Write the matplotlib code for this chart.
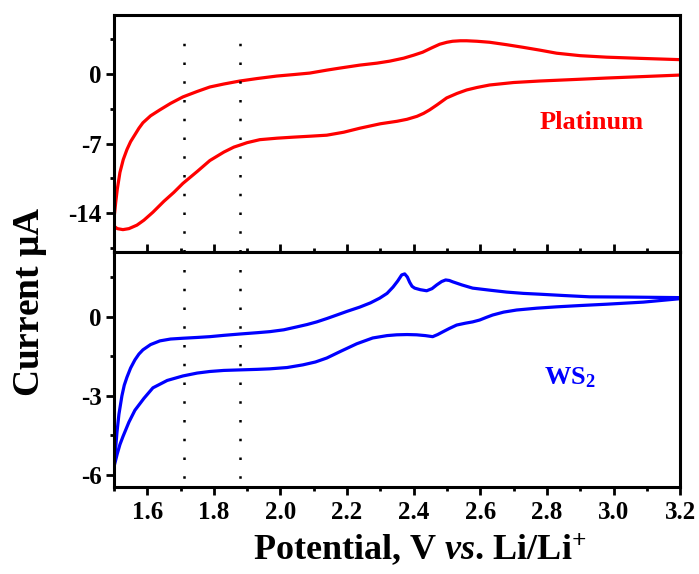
import matplotlib
matplotlib.use("Agg")
import matplotlib.pyplot as plt
from matplotlib.ticker import MultipleLocator, FormatStrFormatter

plt.rcParams['font.family'] = ['Liberation Serif', 'DejaVu Serif']
plt.rcParams['font.weight'] = 'bold'
plt.rcParams['mathtext.fontset'] = 'custom'
plt.rcParams['mathtext.rm'] = 'Liberation Serif:bold'
plt.rcParams['mathtext.bf'] = 'Liberation Serif:bold'
plt.rcParams['mathtext.it'] = 'Liberation Serif:bold:italic'

# ---- Platinum (upper panel) ----
pt_up_v = [1.500, 1.505, 1.510, 1.518, 1.528, 1.539, 1.550, 1.563, 1.575, 1.587,
           1.610, 1.638, 1.670, 1.707, 1.750, 1.788, 1.830, 1.878, 1.930, 1.989,
           2.040, 2.088, 2.140, 2.178, 2.238, 2.290, 2.328, 2.370, 2.400, 2.427,
           2.455, 2.478, 2.500, 2.517, 2.540, 2.559, 2.590, 2.628, 2.680, 2.727,
           2.780, 2.829, 2.900, 2.979, 3.080, 3.200]
pt_up_i = [-14.6, -13.0, -11.6, -9.9, -8.6, -7.6, -6.8, -6.1, -5.45, -4.9,
           -4.2, -3.6, -2.95, -2.3, -1.75, -1.3, -1.0, -0.7, -0.45, -0.2,
           -0.05, 0.1, 0.4, 0.6, 0.9, 1.1, 1.3, 1.6, 1.9, 2.2,
           2.65, 3.0, 3.2, 3.3, 3.35, 3.35, 3.3, 3.2, 2.95, 2.7,
           2.4, 2.1, 1.85, 1.7, 1.58, 1.45]
pt_dn_v = [1.500, 1.510, 1.527, 1.545, 1.569, 1.590, 1.617, 1.650, 1.680, 1.707,
           1.750, 1.788, 1.830, 1.860, 1.878, 1.900, 1.938, 1.990, 2.037, 2.090,
           2.139, 2.190, 2.238, 2.300, 2.350, 2.380, 2.410, 2.430, 2.448, 2.470,
           2.499, 2.530, 2.559, 2.590, 2.628, 2.700, 2.778, 2.880, 2.979, 3.090,
           3.200]
pt_dn_i = [-15.3, -15.55, -15.65, -15.55, -15.2, -14.7, -13.9, -12.8, -11.9, -11.0,
           -9.8, -8.7, -7.85, -7.35, -7.15, -6.9, -6.6, -6.45, -6.35, -6.25,
           -6.15, -5.85, -5.45, -5.0, -4.75, -4.55, -4.25, -3.95, -3.6, -3.1,
           -2.4, -1.95, -1.6, -1.35, -1.1, -0.85, -0.7, -0.55, -0.4, -0.25,
           -0.1]

# ---- WS2 (lower panel) ----
ws_up_v = [1.500, 1.503, 1.506, 1.509, 1.515, 1.524, 1.531, 1.539, 1.550, 1.563,
           1.575, 1.587, 1.610, 1.638, 1.670, 1.707, 1.750, 1.788, 1.830, 1.878,
           1.930, 1.968, 2.010, 2.049, 2.080, 2.109, 2.140, 2.169, 2.200, 2.238,
           2.270, 2.298, 2.320, 2.338, 2.352, 2.364, 2.373, 2.381, 2.388, 2.395,
           2.403, 2.420, 2.439, 2.455, 2.469, 2.484, 2.496, 2.507, 2.517, 2.545,
           2.577, 2.630, 2.679, 2.730, 2.778, 2.850, 2.928, 3.050, 3.200]
ws_up_i = [-5.7, -5.3, -4.85, -4.4, -3.7, -3.0, -2.6, -2.3, -1.95, -1.64,
           -1.42, -1.26, -1.06, -0.92, -0.85, -0.82, -0.79, -0.76, -0.71, -0.66,
           -0.61, -0.57, -0.5, -0.39, -0.3, -0.2, -0.07, 0.06, 0.2, 0.36,
           0.52, 0.7, 0.88, 1.12, 1.35, 1.58, 1.62, 1.5, 1.3, 1.15,
           1.08, 1.02, 0.98, 1.06, 1.2, 1.33, 1.39, 1.37, 1.32, 1.2,
           1.08, 1.0, 0.93, 0.88, 0.85, 0.8, 0.75, 0.74, 0.72]
ws_dn_v = [1.500, 1.510, 1.518, 1.527, 1.545, 1.563, 1.590, 1.617, 1.660, 1.707,
           1.750, 1.788, 1.830, 1.878, 1.930, 1.968, 2.020, 2.067, 2.105, 2.139,
           2.180, 2.229, 2.277, 2.320, 2.349, 2.380, 2.409, 2.435, 2.457, 2.472,
           2.487, 2.507, 2.529, 2.555, 2.577, 2.598, 2.618, 2.637, 2.670, 2.709,
           2.770, 2.829, 2.900, 2.979, 3.090, 3.200]
ws_dn_i = [-5.7, -5.2, -4.85, -4.55, -4.0, -3.55, -3.1, -2.7, -2.42, -2.25,
           -2.14, -2.08, -2.04, -2.02, -2.0, -1.98, -1.93, -1.83, -1.72, -1.57,
           -1.32, -1.03, -0.81, -0.72, -0.69, -0.68, -0.69, -0.72, -0.76, -0.68,
           -0.58, -0.45, -0.32, -0.25, -0.2, -0.13, -0.03, 0.06, 0.17, 0.25,
           0.32, 0.37, 0.42, 0.47, 0.55, 0.68]

guide_v = [1.71, 1.88]

fig = plt.figure(figsize=(6.99, 5.74), dpi=100)
ax1 = fig.add_axes([0.163, 0.561, 0.810, 0.413])
ax2 = fig.add_axes([0.163, 0.152, 0.810, 0.409])

red = '#FF0000'
blue = '#0000FF'
lw = 2.3

for v, i in ((pt_up_v, pt_up_i), (pt_dn_v, pt_dn_i)):
    ax1.plot(v, i, color=red, lw=lw, solid_joinstyle='round', solid_capstyle='round')
for v, i in ((ws_up_v, ws_up_i), (ws_dn_v, ws_dn_i)):
    ax2.plot(v, i, color=blue, lw=lw, solid_joinstyle='round', solid_capstyle='round')

for gv in guide_v:
    ax1.axvline(gv, ymax=0.917, color='black', lw=1.8, linestyle=(0, (1, 6.5)))
    ax2.axvline(gv, color='black', lw=1.8, linestyle=(4, (1, 6.5)))

ax1.set_xlim(1.5, 3.2)
ax2.set_xlim(1.5, 3.2)
ax1.set_ylim(-17.9, 5.95)
ax2.set_ylim(-6.45, 2.45)

for ax in (ax1, ax2):
    for s in ax.spines.values():
        s.set_linewidth(2.2)
    ax.xaxis.set_major_locator(MultipleLocator(0.2))
    ax.xaxis.set_minor_locator(MultipleLocator(0.1))
    ax.xaxis.set_major_formatter(FormatStrFormatter('%.1f'))
    ax.tick_params(axis='y', which='both', direction='out', left=True, right=False,
                   labelsize=18, width=2.0, pad=3)
    ax.tick_params(axis='y', which='major', length=6)
    ax.tick_params(axis='y', which='minor', length=3)

ax1.yaxis.set_major_locator(MultipleLocator(7))
ax1.yaxis.set_minor_locator(MultipleLocator(3.5))
ax2.yaxis.set_major_locator(MultipleLocator(3))
ax2.yaxis.set_minor_locator(MultipleLocator(1.5))
ax1.yaxis.set_major_formatter(FormatStrFormatter('%d'))
ax2.yaxis.set_major_formatter(FormatStrFormatter('%d'))

ax1.tick_params(axis='x', which='both', direction='in', top=False, bottom=True,
                labelbottom=False, width=2.0)
ax1.tick_params(axis='x', which='major', length=6)
ax1.tick_params(axis='x', which='minor', length=3)
ax2.tick_params(axis='x', which='both', direction='out', top=False, bottom=True,
                labelsize=18, width=2.0, pad=4)
ax2.tick_params(axis='x', which='major', length=6)
ax2.tick_params(axis='x', which='minor', length=3)

for ax in (ax1, ax2):
    for lab in ax.get_xticklabels() + ax.get_yticklabels():
        lab.set_fontweight('bold')

ax1.text(2.935, -4.9, 'Platinum', color=red, fontsize=19, fontweight='bold',
         ha='center', va='center')
ax2.text(2.87, -2.3, r'WS$_{2}$', color=blue, fontsize=19, fontweight='bold',
         ha='center', va='center')

fig.text(0.043, 0.474, r'Current $\mathregular{\mu}$A', rotation=90, fontsize=27,
         fontweight='bold', ha='center', va='center')
fig.text(0.601, 0.042, r'Potential, V $\mathit{vs}$. Li/Li$^{+}$', fontsize=26,
         fontweight='bold', ha='center', va='center')

fig.savefig('out.png', dpi=100)
